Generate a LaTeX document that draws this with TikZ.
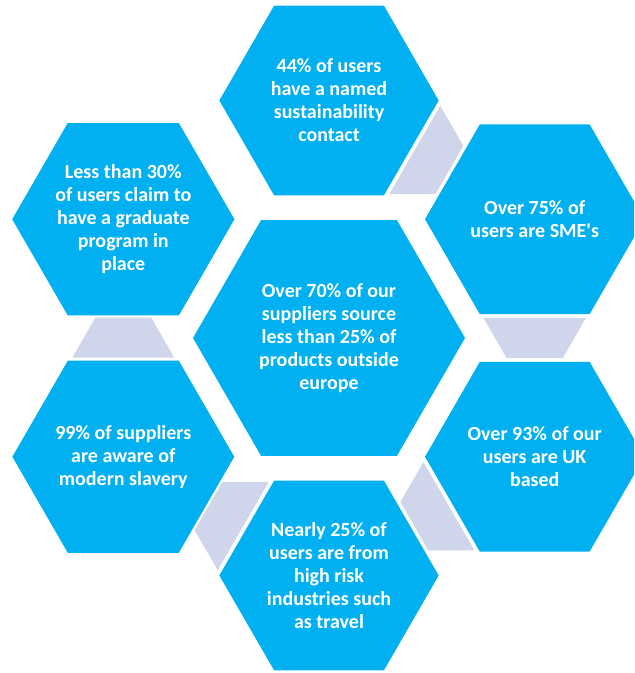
\documentclass[tikz,border=0pt]{standalone}
\usepackage{fontspec}
\setmainfont{Carlito}
\usetikzlibrary{shapes.geometric}
\usetikzlibrary{calc}

\definecolor{hexblue}{RGB}{0,176,240}
\definecolor{bridgegray}{RGB}{207,213,234}

\tikzset{
  hexa/.style={regular polygon, regular polygon sides=6, minimum size=164.5pt,
    inner sep=0pt, outer sep=0pt, fill=hexblue, text=white, align=center,
    font=\bfseries\fontsize{15}{17.3}\selectfont},
  bighexa/.style={hexa, minimum size=204pt},
  bridgefill/.style={fill=bridgegray}
}

% band from hexagon #1 (wide end) towards hexagon #2 (narrow end)
\newcommand{\bridge}[2]{%
  \fill[bridgefill] let \p1=($(#2)-(#1)$), \n1={atan2(\y1,\x1)} in
    ($(#1)+(\n1:99)+(\n1+90:51)$) -- ($(#1)+(\n1:139)+(\n1+90:28)$) --
    ($(#1)+(\n1:139)+(\n1-90:28)$) -- ($(#1)+(\n1:99)+(\n1-90:51)$) -- cycle;}

\begin{document}
\begin{tikzpicture}[x=0.75pt, y=0.75pt]
% Set the size of the figure
\useasboundingbox (0,0) rectangle (634,673);
\clip (0,0) rectangle (634,673);

% Hexagons: a big one in the middle, six around it
\node[bighexa] (europe) at (329,335) {Over 70\% of our\\ suppliers source\\ less than 25\% of\\ products outside\\ europe};
\node[hexa] (contact) at (329,572.5) {44\% of users\\ have a named\\ sustainability\\ contact};
\node[hexa] (sme) at (534.7,453.75) {Over 75\% of\\ users are SME\textquotesingle s};
\node[hexa] (ukbased) at (534.7,216.25) {Over 93\% of our\\ users are UK\\ based};
\node[hexa] (risk) at (329,97.5) {Nearly 25\% of\\ users are from\\ high risk\\ industries such\\ as travel};
\node[hexa] (slavery) at (123.3,216.25) {99\% of suppliers\\ are aware of\\ modern slavery};
\node[hexa] (graduate) at (123.3,453.75) {Less than 30\%\\ of users claim to\\ have a graduate\\ program in\\ place};

% Bands between neighbouring hexagons
\bridge{contact}{sme}
\bridge{sme}{ukbased}
\bridge{ukbased}{risk}
\bridge{risk}{slavery}
\bridge{slavery}{graduate}
\end{tikzpicture}
\end{document}
